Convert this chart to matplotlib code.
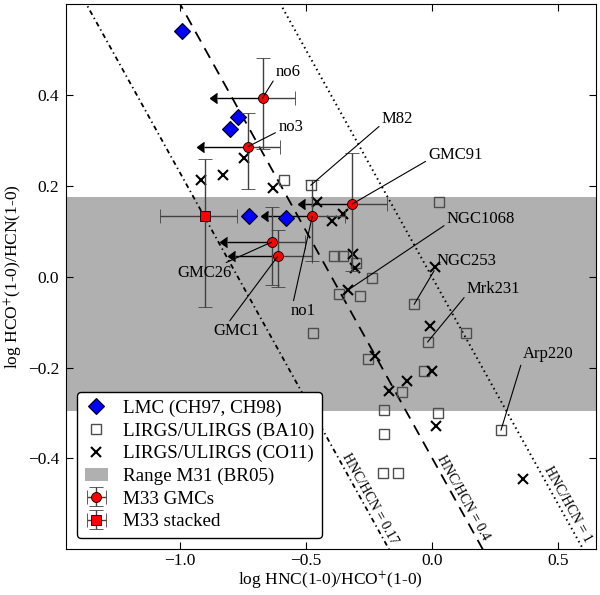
import numpy as np
import matplotlib
matplotlib.use("Agg")
import matplotlib.pyplot as plt
from matplotlib.patches import Patch

plt.rcParams['font.family'] = ['Liberation Serif', 'DejaVu Serif']
plt.rcParams['mathtext.fontset'] = 'stix'
plt.rcParams['lines.scale_dashes'] = False

# LMC (CH97, CH98)
lmc_x = [-0.990, -0.770, -0.800, -0.726, -0.579]
lmc_y = [0.541, 0.352, 0.324, 0.1325, 0.130]

# LIRGS/ULIRGS (BA10)
ba10_x = [-0.480, -0.586, 0.029, -0.388, -0.351, -0.302, -0.236, -0.367, -0.285,
          -0.470, -0.070, -0.017, 0.135, -0.254, -0.029, -0.119, -0.188, 0.025,
          -0.188, -0.195, -0.133, 0.274]
ba10_y = [0.201, 0.212, 0.164, 0.0446, 0.0446, 0.029, -0.004, -0.039, -0.043,
          -0.125, -0.061, -0.144, -0.125, -0.182, -0.207, -0.254, -0.294, -0.301,
          -0.347, -0.433, -0.433, -0.338]

# LIRGS/ULIRGS (CO11)
co11_x = [-0.913, -0.827, -0.745, -0.629, -0.456, -0.397, -0.351, -0.311, -0.304,
          -0.331, 0.013, -0.007, -0.225, 0.000, -0.099, -0.169, 0.016, 0.360]
co11_y = [0.212, 0.223, 0.262, 0.196, 0.164, 0.122, 0.138, 0.049, 0.018,
          -0.029, 0.021, -0.109, -0.175, -0.207, -0.229, -0.252, -0.328, -0.446]

# M33 GMCs
gmc_names = ["no6", "no3", "no1", "GMC91", "GMC26", "GMC1"]
gmc_x = [-0.671, -0.729, -0.474, -0.315, -0.635, -0.611]
gmc_y = [0.393, 0.286, 0.1325, 0.160, 0.076, 0.0446]
gmc_xlim = [0.180, 0.175, 0.174, 0.188, 0.176, 0.170]   # upper limit arrows
gmc_xhi = [0.130, 0.127, 0.130, 0.136, 0.133, 0.135]
gmc_ylo = [0.112, 0.093, 0.098, 0.148, 0.095, 0.068]
gmc_yhi = [0.089, 0.074, 0.080, 0.111, 0.077, 0.057]

# M33 stacked
stk_x = [-0.900]
stk_y = [0.1325]
stk_xlo = [0.177]
stk_xhi = [0.129]
stk_ylo = [0.199]
stk_yhi = [0.126]

# M31 range (BR05)
m31_lo, m31_hi = -0.295, 0.176

# HNC/HCN ratios
ratios = [0.17, 0.4, 1.0]
ratio_text = ["HNC/HCN = 0.17", "HNC/HCN = 0.4", "HNC/HCN = 1"]
ratio_lab_x = [-0.245, 0.124, 0.537]

fig = plt.figure(figsize=(6.0, 5.95), dpi=100)
ax = fig.add_axes([0.11, 0.0768, 0.883, 0.9165])

ax.axhspan(m31_lo, m31_hi, color='0.69', lw=0, zorder=0.5)

xx = np.array([-1.6, 0.8])
styles = [dict(dashes=(3.5, 2.5, 1, 2.5), lw=1.3),
          dict(dashes=(8, 5.5), lw=1.3),
          dict(dashes=(1.1, 2.5), lw=1.4)]
for r, st, txt, lx in zip(ratios, styles, ratio_text, ratio_lab_x):
    ax.plot(xx, np.log10(r) - xx, color='k', zorder=1.2, **st)
    ly = np.log10(r) - lx + 0.035
    ax.text(lx, ly, txt, fontsize=10, rotation=-45, transform_rotates_text=True,
            rotation_mode='anchor', ha='center', va='center')

ax.plot(lmc_x, lmc_y, 'D', ms=8.5, mfc='blue', mec='k', mew=0.8, ls='none',
        zorder=3, label='LMC (CH97, CH98)')
ax.plot(ba10_x, ba10_y, 's', ms=7, mfc='none', mec='0.3', mew=1.0, ls='none',
        zorder=3, label='LIRGS/ULIRGS (BA10)')
ax.plot(co11_x, co11_y, 'x', ms=7.5, mec='k', mew=1.5, ls='none',
        zorder=3, label='LIRGS/ULIRGS (CO11)')

# arrows (upper limits in x)
arr = ax.errorbar(gmc_x, gmc_y, xerr=gmc_xlim, xuplims=True, fmt='none', ecolor='k',
                  elinewidth=1.0, capsize=4, zorder=2.4)
for cl in arr[1]:
    cl.set_color('k')
    cl.set_markerfacecolor('k')
    cl.set_markeredgecolor('k')
    cl.set_markersize(7)

ax.errorbar(gmc_x, gmc_y, xerr=[np.zeros(len(gmc_x)), gmc_xhi],
            yerr=[gmc_ylo, gmc_yhi], fmt='o', ms=7.2, mfc='red', mec='k', mew=0.6,
            ecolor='0.25', elinewidth=1.0, capsize=5, zorder=4, label='M33 GMCs')
ax.errorbar(stk_x, stk_y, xerr=[stk_xlo, stk_xhi], yerr=[stk_ylo, stk_yhi],
            fmt='s', ms=7.2, mfc='red', mec='k', mew=0.6, ecolor='0.25',
            elinewidth=1.0, capsize=5, zorder=4, label='M33 stacked')

# annotations
ann = [
    ("M82", (ba10_x[0], ba10_y[0]), (-0.198, 0.3376), 'left', 'baseline', (0, 0.2)),
    ("GMC91", (gmc_x[3], gmc_y[3]), (-0.0135, 0.259), 'left', 'baseline', (0, 0.2)),
    ("NGC1068", (co11_x[9], co11_y[9]), (0.0595, 0.118), 'left', 'baseline', (0, 0.2)),
    ("NGC253", (ba10_x[10], ba10_y[10]), (0.020, 0.025), 'left', 'baseline', (0, 0.2)),
    ("Mrk231", (ba10_x[11], ba10_y[11]), (0.139, -0.037), 'left', 'baseline', (0, 0.2)),
    ("Arp220", (ba10_x[21], ba10_y[21]), (0.360, -0.180), 'left', 'baseline', (0, 0.2)),
    ("no6", (gmc_x[0], gmc_y[0]), (-0.618, 0.442), 'left', 'baseline', (0, 0.2)),
    ("no3", (gmc_x[1], gmc_y[1]), (-0.609, 0.3215), 'left', 'baseline', (0, 0.2)),
    ("GMC26", (gmc_x[4], gmc_y[4]), (-0.900, 0.025), 'center', 'top', (0.78, 1.0)),
    ("GMC1", (gmc_x[5], gmc_y[5]), (-0.776, -0.103), 'center', 'top', (0.32, 1.0)),
    ("no1", (gmc_x[2], gmc_y[2]), (-0.511, -0.059), 'center', 'top', (0.1, 1.0)),
]
for name, xy, xyt, ha, va, rp in ann:
    ax.annotate(name, xy=xy, xytext=xyt, textcoords='data', ha=ha, va=va,
                fontsize=12, zorder=5,
                arrowprops=dict(arrowstyle='-', color='k', lw=0.8,
                                shrinkA=0, shrinkB=0, relpos=rp))

ax.set_xlim(-1.45, 0.65)
ax.set_ylim(-0.6, 0.6)
ax.set_xticks([-1.0, -0.5, 0.0, 0.5])
ax.set_yticks([-0.4, -0.2, 0.0, 0.2, 0.4])
ax.tick_params(direction='in', top=True, right=True, length=5, width=0.8,
               labelsize=12.5)
ax.tick_params(axis='x', pad=3)
ax.tick_params(axis='y', pad=5)
ax.set_xlabel("log HNC(1-0)/HCO$^{+}$(1-0)", fontsize=12.5, labelpad=0)
ax.set_ylabel("log HCO$^{+}$(1-0)/HCN(1-0)", fontsize=12.5, labelpad=2)

h, l = ax.get_legend_handles_labels()
order = ['LMC (CH97, CH98)', 'LIRGS/ULIRGS (BA10)', 'LIRGS/ULIRGS (CO11)',
         'M33 GMCs', 'M33 stacked']
hd = dict(zip(l, h))
handles = [hd[order[0]], hd[order[1]], hd[order[2]],
           Patch(facecolor='0.69', edgecolor='none'), hd[order[3]], hd[order[4]]]
labels = [order[0], order[1], order[2], 'Range M31 (BR05)', order[3], order[4]]
leg = ax.legend(handles, labels, loc='lower left', fontsize=13.7, numpoints=1,
                handlelength=1.2, handletextpad=0.8, labelspacing=0.28,
                borderaxespad=0.6, fancybox=True, framealpha=1, edgecolor='k')
leg.get_frame().set_linewidth(1.0)
leg.set_zorder(6)

fig.savefig("out.png", dpi=100)
